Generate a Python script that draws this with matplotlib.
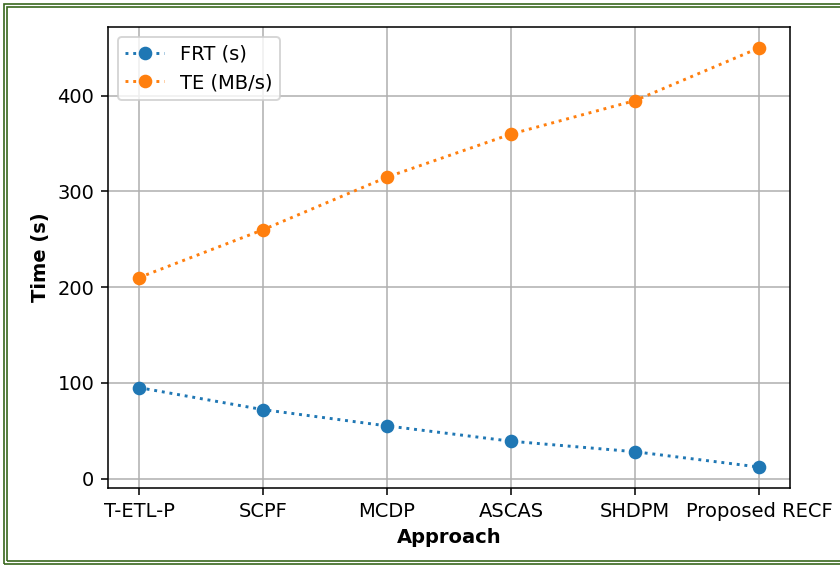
import matplotlib
matplotlib.use('Agg')
import matplotlib.pyplot as plt
from matplotlib.patches import Rectangle

# dados
abordagens = ['T-ETL-P', 'SCPF', 'MCDP', 'ASCAS', 'SHDPM', 'Proposed RECF']
frt = [95, 72, 55, 39, 28, 12]
te = [210, 260, 315, 360, 395, 450]

dpi = 140
W, H = 840, 565
fig = plt.figure(figsize=(W / dpi, H / dpi), dpi=dpi)
ax = fig.add_axes([108 / W, 77 / H, 682 / W, 461 / H])

ax.plot(abordagens, frt, linestyle=':', marker='o', label='FRT (s)')
ax.plot(abordagens, te, linestyle=':', marker='o', label='TE (MB/s)')

ax.set_xlabel('Approach', fontweight='bold')
ax.set_ylabel('Time (s)', fontweight='bold')
ax.set_yticks([0, 100, 200, 300, 400])
ax.grid(True)
ax.legend(loc='upper left')

# moldura verde dupla (lado direito fica cortado na imagem original)
verde = '#3d6a22'
lw = 1.7 * 72 / dpi
# (x esq, y topo, y base) em pixels
for x0, ytop, ybase in [(3.5, 3.5, 563.5), (6.5, 6.5, 560.5)]:
    fig.patches.append(Rectangle((x0 / W, (H - ybase) / H), 1.2, (ybase - ytop) / H,
                                 transform=fig.transFigure, fill=False,
                                 edgecolor=verde, linewidth=lw))

fig.savefig('out.png', dpi=dpi)
